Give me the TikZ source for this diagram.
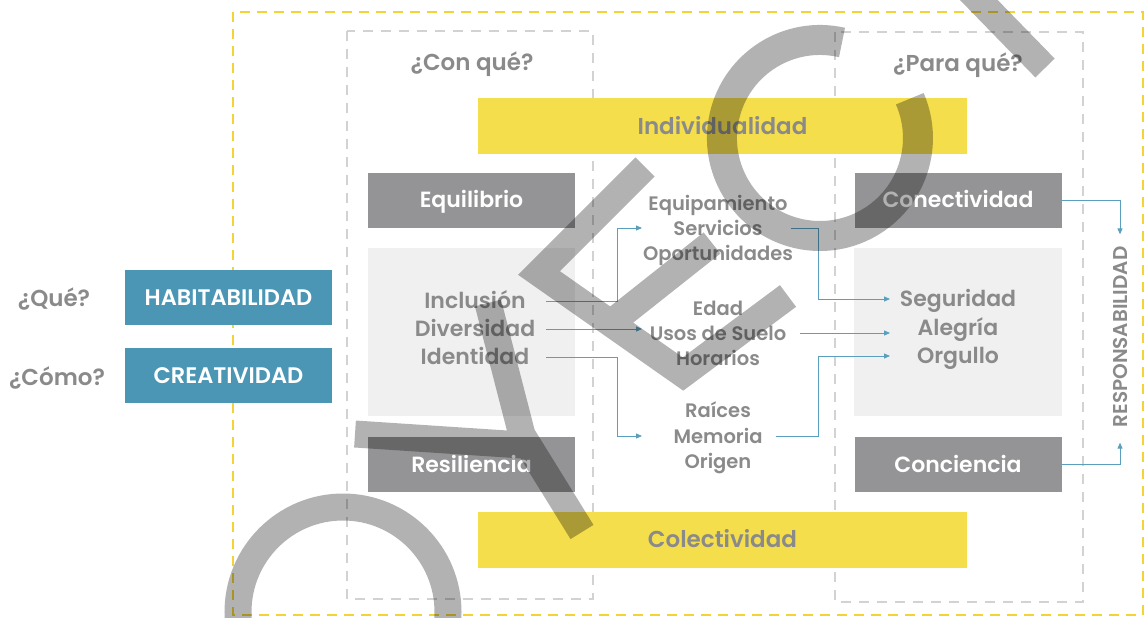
\documentclass[tikz,border=0pt]{standalone}
\usepackage{fontspec}
\setmainfont{Poppins}[BoldFont={Poppins SemiBold}]
\usetikzlibrary{arrows.meta}

\definecolor{amarillo}{HTML}{F4DE4C}
\definecolor{amarilloraya}{HTML}{F2D535}
\definecolor{azul}{HTML}{4B96B4}
\definecolor{grisfuerte}{HTML}{949496}
\definecolor{grisclaro}{HTML}{F0F0F0}
\definecolor{gristexto}{HTML}{8A8A8A}
\definecolor{grisraya}{HTML}{D2D2D2}
\definecolor{flecha}{HTML}{5AA0BE}

\tikzset{
  linea/.style={inner sep=0pt, text depth=0pt},
  caja/.style={linea, text height=15.8pt, fill=grisfuerte, minimum width=207pt, minimum height=55pt,
    text=white, font=\bfseries\fontsize{22}{26}\selectfont},
  cajaazul/.style={linea, text height=16.2pt, fill=azul, minimum width=207pt, minimum height=55pt,
    text=white, font=\bfseries\fontsize{22.5}{26}\selectfont},
  barra/.style={linea, text height=16.6pt, fill=amarillo, minimum width=489pt, minimum height=56pt,
    text=gristexto, font=\bfseries\fontsize{23}{27}\selectfont},
  pregunta/.style={linea, text height=16.6pt, text=gristexto, font=\bfseries\fontsize{23}{27}\selectfont},
  texto/.style={linea, text height=15.8pt, text=gristexto, font=\bfseries\fontsize{22}{26}\selectfont},
  textomed/.style={linea, text height=14pt, text=gristexto, font=\bfseries\fontsize{19.5}{23}\selectfont},
  rayaamarilla/.style={draw=amarilloraya, line width=2.5pt, dash pattern=on 10pt off 7pt},
  rayagris/.style={draw=grisraya, line width=2pt, dash pattern=on 10pt off 8pt},
  flujo/.style={draw=flecha, line width=0.9pt, -{Triangle[length=6pt,width=5pt]}},
  marca/.style={draw=black, draw opacity=0.3, line width=27pt},
}

\begin{document}
\begin{tikzpicture}[x=1pt,y=-1pt]
  %%%%% START %%%%%
  \useasboundingbox (0,0) rectangle (1146,618);

  \draw[rayaamarilla] (233,12) rectangle (1143,615);
  \draw[rayagris] (347,31) rectangle (593,599);
  \draw[rayagris] (835,32) rectangle (1083,602);

  \fill[grisclaro] (368,248) rectangle (575,416);
  \fill[grisclaro] (854,248) rectangle (1062,416);

  \node[pregunta] (conque) at (472,62) {¿Con qué?};
  \node[pregunta] (paraque) at (958,63) {¿Para qué?};
  \node[pregunta] (que) at (54,298) {¿Qué?};
  \node[pregunta] (como) at (57,377) {¿Cómo?};

  \node[cajaazul] (habitabilidad) at (228.5,297.5) {HABITABILIDAD};
  \node[cajaazul] (creatividad) at (228.5,375.5) {CREATIVIDAD};

  \node[barra] (individualidad) at (722.5,126) {Individualidad};
  \node[barra] (colectividad) at (722.5,539.5) {Colectividad};

  \node[caja] (equilibrio) at (471.5,200) {Equilibrio};
  \node[caja] (resiliencia) at (471.5,464.5) {Resiliencia};
  \node[caja] (conectividad) at (958,200) {Conectividad};
  \node[caja] (conciencia) at (958,464.5) {Conciencia};

  % con que
  \node[texto] (inclusion) at (475,301) {Inclusión};
  \node[texto] (diversidad) at (475,329) {Diversidad};
  \node[texto] (identidad) at (475,357) {Identidad};

  % medio
  \node[textomed] (equipamiento) at (718,203) {Equipamiento};
  \node[textomed] (servicios) at (718,228) {Servicios};
  \node[textomed] (oportunidades) at (718,253) {Oportunidades};
  \node[textomed] (edad) at (718,308) {Edad};
  \node[textomed] (usos) at (718,333) {Usos de Suelo};
  \node[textomed] (horarios) at (718,358) {Horarios};
  \node[textomed] (raices) at (718,410) {Raíces};
  \node[textomed] (memoria) at (718,436) {Memoria};
  \node[textomed] (origen) at (718,461) {Origen};

  % para que
  \node[texto] (seguridad) at (958,299) {Seguridad};
  \node[texto] (alegria) at (958,328) {Alegría};
  \node[texto] (orgullo) at (958,356) {Orgullo};

  \node[pregunta, rotate=90, text height=14.4pt, font=\bfseries\fontsize{20}{24}\selectfont] (responsabilidad) at (1120,337) {RESPONSABILIDAD};

  \coordinate (salidaA) at (546,0);
  \coordinate (codoA) at (617,0);
  \coordinate (llegadaA) at (642,0);
  \coordinate (codoB) at (818,0);
  \coordinate (llegadaB) at (890,0);

  \draw[flujo] (salidaA |- inclusion) -| (codoA |- servicios) -- (llegadaA |- servicios);
  \draw[flujo] (salidaA |- diversidad) -- (llegadaA |- diversidad);
  \draw[flujo] (salidaA |- identidad) -| (codoA |- memoria) -- (llegadaA |- memoria);
  \draw[flujo] ([xshift=28pt]servicios.east) -| (codoB |- seguridad) -- (llegadaB |- seguridad);
  \draw[flujo] ([xshift=14pt]usos.east) -- (llegadaB |- usos);
  \draw[flujo] ([xshift=13pt]memoria.east) -| (codoB |- orgullo) -- (llegadaB |- orgullo);
  \draw[flujo] (conectividad.east) -| ([yshift=12pt]responsabilidad.east);
  \draw[flujo] (conciencia.east) -| ([yshift=-15pt]responsabilidad.west);

  % marca de agua
  \draw[marca] (343,612) circle (105);
  \draw[marca] (488,303) -- (522,435) -- (582,532) (355,434) -- (522,445);
  \draw[marca, line join=miter] (645,167) -- (539,273) -- (683,374) -- (788,296) (611,323) -- (712,243);
  \draw[marca, line width=30pt] (842,42.5) arc (-77:-383.6:98);
  \draw[marca] (935,-45) -- (1045,68);

  %%%%% END %%%%%
\end{tikzpicture}
\end{document}
